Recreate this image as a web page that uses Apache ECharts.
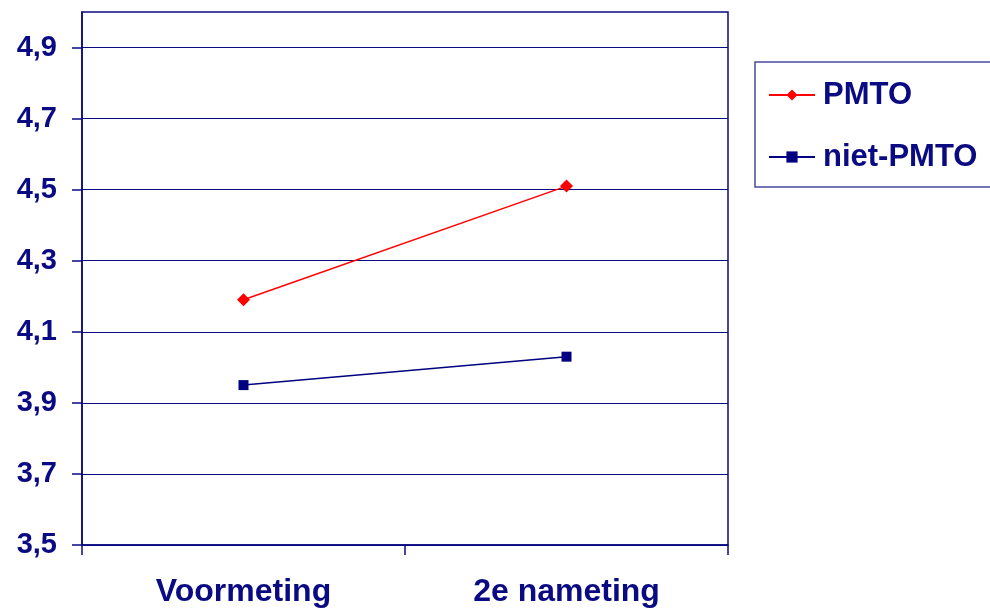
<!DOCTYPE html>
<html>
<head>
<meta charset="utf-8">
<script src="https://cdn.jsdelivr.net/npm/echarts@6/dist/echarts.min.js"></script>
<style>html,body{margin:0;padding:0;background:#fff}#c{width:990px;height:614px}</style>
</head>
<body>
<div id="c"></div>
<script>
var categories = ['Voormeting', '2e nameting'];
var pmto = [4.19, 4.51];
var nietPmto = [3.95, 4.03];
var yTicks = [3.5, 3.7, 3.9, 4.1, 4.3, 4.5, 4.7, 4.9];

var navy = '#0a0a82';
var fontFam = '"Liberation Sans", Arial, sans-serif';
var chart = echarts.init(document.getElementById('c'));
chart.setOption({
  animation: false,
  backgroundColor: '#ffffff',
  grid: {left: 82, right: 262, top: 12, bottom: 69, show: true, borderColor: navy, borderWidth: 1.5, backgroundColor: 'transparent'},
  legend: {
    orient: 'vertical', left: 755, top: 62,
    padding: [16, 14, 13, 13],
    itemGap: 28, itemWidth: 46, itemHeight: 14,
    borderColor: '#4a4aa0', borderWidth: 1.5,
    textStyle: {color: navy, fontSize: 31, fontWeight: 'bold', fontFamily: fontFam, lineHeight: 34, padding: [0, 0, 0, 3]},
    data: ['PMTO', 'niet-PMTO']
  },
  xAxis: {
    type: 'category', data: categories, boundaryGap: true,
    axisLine: {lineStyle: {color: navy, width: 1.5}},
    axisTick: {show: true, alignWithLabel: false, length: 10, lineStyle: {color: navy, width: 1.5}},
    axisLabel: {color: navy, fontSize: 32, fontWeight: 'bold', fontFamily: fontFam, margin: 31}
  },
  yAxis: {
    type: 'value', min: 3.5, max: 5.0, interval: 0.2,
    axisLine: {show: true, lineStyle: {color: navy, width: 1.5}},
    axisTick: {show: true, length: 10, lineStyle: {color: navy, width: 1.5}, customValues: yTicks},
    splitLine: {show: true, lineStyle: {color: navy, width: 1.2}},
    axisLabel: {
      color: navy, fontSize: 29, fontWeight: 'bold', fontFamily: fontFam, margin: 25,
      customValues: yTicks,
      formatter: function (v) { return v.toFixed(1).replace('.', ','); }
    }
  },
  series: [
    {name: 'PMTO', type: 'line', data: pmto, symbol: 'diamond', symbolSize: 13,
     itemStyle: {color: '#ff0000'}, lineStyle: {color: '#ff0000', width: 1.5}},
    {name: 'niet-PMTO', type: 'line', data: nietPmto, symbol: 'rect', symbolSize: 10,
     itemStyle: {color: '#000080'}, lineStyle: {color: '#000080', width: 1.5}}
  ]
});
</script>
</body>
</html>
